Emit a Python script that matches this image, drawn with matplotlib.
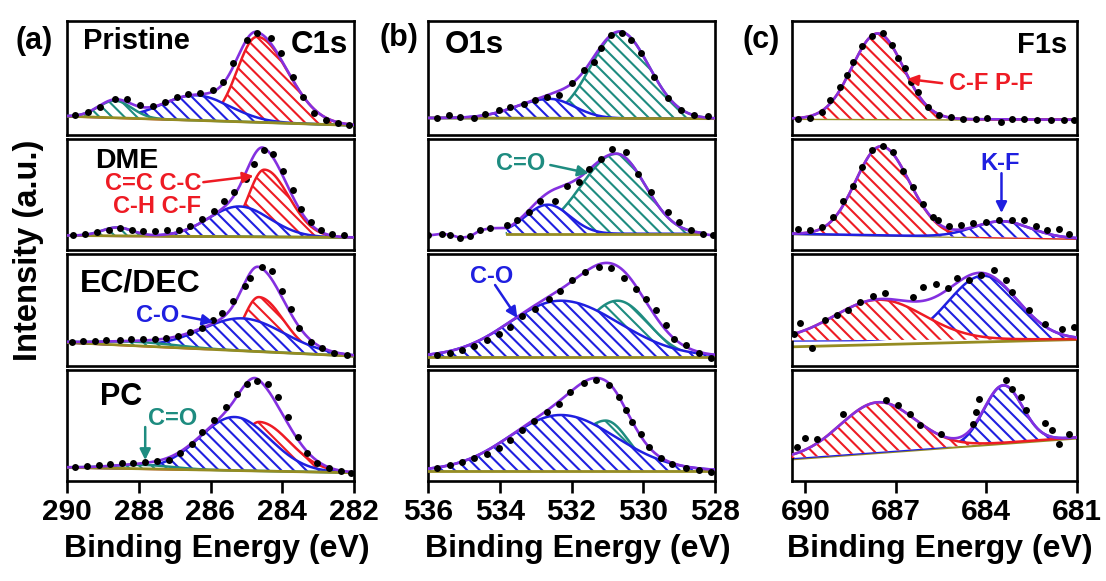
import numpy as np
import matplotlib
matplotlib.use("Agg")
import matplotlib.pyplot as plt
from matplotlib.patches import Polygon
from matplotlib.collections import LineCollection

plt.rcParams["font.family"] = ["Liberation Sans", "DejaVu Sans"]
plt.rcParams["font.weight"] = "bold"

RED = "#EE1B24"
BLUE = "#1F1FE0"
TEAL = "#1E8C80"
PURPLE = "#8430E0"
OLIVE = "#958C22"

# ---------------- C 1s ----------------
c1s_xlim = (290, 282)
c1s_ticks = [290, 288, 286, 284, 282]

c1s_pristine_E = [289.78, 289.41, 289.08, 288.66, 288.32, 287.96, 287.59, 287.26, 286.92, 286.62, 286.28, 285.94,
                  285.66, 285.36, 284.97, 284.69, 284.32, 284.04, 283.71, 283.43, 283.12, 282.78, 282.45, 282.14]
c1s_pristine_I = [0.168, 0.195, 0.239, 0.31, 0.31, 0.257, 0.248, 0.283, 0.327, 0.354, 0.363, 0.389,
                  0.46, 0.628, 0.832, 0.894, 0.85, 0.717, 0.504, 0.327, 0.186, 0.124, 0.097, 0.08]
c1s_pristine_bg = (0.16, 0.08)
# (colour, centre eV, height, FWHM on high-BE side, FWHM on low-BE side)
c1s_pristine_peaks = [(RED, 284.7, 0.75, 1.3, 2.0), (BLUE, 286.4, 0.22, 2.2, 2.2), (TEAL, 288.66, 0.15, 1.1, 1.1)]

c1s_dme_E = [289.82, 289.5, 289.17, 288.84, 288.52, 288.19, 287.87, 287.54, 287.21, 286.89, 286.56, 286.23, 285.91,
             285.63, 285.35, 285.02, 284.79, 284.51, 284.27, 283.99, 283.71, 283.48, 283.2, 282.92, 282.6, 282.27]
c1s_dme_I = [0.134, 0.149, 0.164, 0.184, 0.199, 0.179, 0.173, 0.17, 0.179, 0.185, 0.223, 0.277, 0.357,
             0.446, 0.52, 0.64, 0.774, 0.899, 0.863, 0.714, 0.536, 0.372, 0.253, 0.179, 0.149, 0.134]
c1s_dme_bg = (0.134, 0.116)
c1s_dme_peaks = [(RED, 284.5, 0.60, 1.05, 1.6), (BLUE, 285.2, 0.27, 2.0, 2.0), (TEAL, 288.6, 0.075, 1.0, 1.0)]

c1s_ecdec_E = [289.87, 289.55, 289.22, 288.9, 288.53, 288.21, 287.88, 287.55, 287.23, 286.9, 286.57, 286.25, 285.92,
               285.68, 285.36, 285.03, 284.89, 284.56, 284.28, 284.0, 283.77, 283.54, 283.21, 282.89, 282.56, 282.19]
c1s_ecdec_I = [0.215, 0.221, 0.227, 0.23, 0.236, 0.242, 0.242, 0.242, 0.254, 0.271, 0.304, 0.342, 0.413,
               0.472, 0.584, 0.717, 0.79, 0.88, 0.845, 0.674, 0.51, 0.342, 0.215, 0.165, 0.118, 0.097]
c1s_ecdec_bg = (0.21, 0.088)
c1s_ecdec_peaks = [(RED, 284.65, 0.487, 1.0, 1.6), (BLUE, 285.1, 0.29, 2.7, 2.7), (TEAL, 288.0, 0.035, 2.5, 2.5)]

c1s_pc_E = [289.78, 289.45, 289.12, 288.8, 288.47, 288.15, 287.82, 287.49, 287.17, 286.84, 286.51, 286.23, 285.91,
            285.58, 285.25, 284.97, 284.69, 284.41, 284.13, 283.85, 283.57, 283.3, 283.02, 282.69, 282.36, 282.08]
c1s_pc_I = [0.128, 0.137, 0.143, 0.149, 0.158, 0.164, 0.173, 0.18, 0.188, 0.247, 0.336, 0.44, 0.545,
            0.664, 0.783, 0.872, 0.9, 0.866, 0.753, 0.574, 0.396, 0.247, 0.158, 0.113, 0.092, 0.074]
c1s_pc_bg = (0.122, 0.074)
c1s_pc_peaks = [(RED, 284.65, 0.44, 1.1, 2.0), (BLUE, 285.33, 0.48, 2.3, 2.3), (TEAL, 287.9, 0.035, 2.0, 2.0)]

# ---------------- O 1s ----------------
o1s_xlim = (536, 528)
o1s_ticks = [536, 534, 532, 530, 528]

o1s_pristine_E = [535.76, 535.41, 535.1, 534.73, 534.41, 534.03, 533.71, 533.33, 533.01, 532.68, 532.36, 531.98,
                  531.66, 531.38, 531.19, 530.91, 530.58, 530.35, 530.07, 529.7, 529.32, 528.95, 528.58, 528.2]
o1s_pristine_I = [0.148, 0.168, 0.153, 0.148, 0.177, 0.212, 0.242, 0.265, 0.301, 0.33, 0.345, 0.449,
                  0.566, 0.64, 0.758, 0.876, 0.891, 0.832, 0.714, 0.507, 0.316, 0.212, 0.168, 0.159]
o1s_pristine_bg = (0.145, 0.139)
o1s_pristine_peaks = [(TEAL, 530.65, 0.76, 1.9, 1.9), (BLUE, 532.6, 0.17, 2.2, 1.6)]

o1s_dme_E = [535.99, 535.62, 535.38, 535.1, 534.83, 534.55, 534.27, 533.8, 533.52, 533.19, 532.87, 532.45, 532.12,
             531.8, 531.52, 531.19, 530.86, 530.49, 530.16, 529.79, 529.32, 529.0, 528.67, 528.34, 528.06]
o1s_dme_I = [0.134, 0.149, 0.14, 0.113, 0.125, 0.179, 0.199, 0.232, 0.274, 0.342, 0.446, 0.446, 0.58,
             0.61, 0.729, 0.818, 0.908, 0.878, 0.685, 0.521, 0.342, 0.253, 0.179, 0.149, 0.134]
o1s_dme_bg = (0.149, 0.149)
o1s_dme_fit = (533.8, 528.4)
o1s_dme_peaks = [(TEAL, 530.75, 0.714, 2.3, 1.9), (BLUE, 532.66, 0.26, 1.45, 1.45)]

o1s_ecdec_E = [535.76, 535.38, 535.06, 534.73, 534.36, 534.03, 533.71, 533.38, 533.01, 532.64, 532.31, 531.98,
               531.61, 531.24, 530.91, 530.54, 530.21, 529.93, 529.65, 529.37, 529.14, 528.81, 528.44, 528.11]
o1s_ecdec_I = [0.097, 0.118, 0.142, 0.18, 0.23, 0.289, 0.348, 0.442, 0.51, 0.599, 0.673, 0.767,
               0.835, 0.885, 0.873, 0.79, 0.688, 0.599, 0.496, 0.363, 0.245, 0.186, 0.112, 0.068]
o1s_ecdec_bg = (0.083, 0.083)
o1s_ecdec_peaks = [(TEAL, 530.72, 0.50, 2.1, 2.0), (BLUE, 532.3, 0.50, 3.4, 3.8)]

o1s_pc_E = [535.76, 535.38, 535.06, 534.73, 534.36, 534.03, 533.71, 533.38, 533.05, 532.68, 532.35, 532.03, 531.66,
            531.33, 530.95, 530.68, 530.49, 530.3, 530.07, 529.84, 529.51, 529.19, 528.81, 528.44, 528.11]
o1s_pc_I = [0.113, 0.143, 0.173, 0.202, 0.241, 0.292, 0.366, 0.455, 0.539, 0.619, 0.693, 0.798, 0.878,
            0.902, 0.857, 0.753, 0.634, 0.53, 0.426, 0.306, 0.202, 0.149, 0.119, 0.098, 0.083]
o1s_pc_bg = (0.092, 0.092)
o1s_pc_peaks = [(TEAL, 531.05, 0.45, 1.9, 1.5), (BLUE, 532.3, 0.50, 3.4, 3.6)]

# ---------------- F 1s ----------------
f1s_xlim = (690.46, 681)
f1s_ticks = [690, 687, 684, 681]

f1s_pristine_E = [690.23, 689.84, 689.45, 689.18, 688.85, 688.63, 688.41, 688.13, 687.8, 687.42, 687.14, 686.93,
                  686.7, 686.48, 686.27, 685.94, 685.55, 685.16, 684.78, 684.34, 683.96, 683.51, 683.13, 682.74,
                  682.3, 681.86, 681.42, 681.09]
f1s_pristine_I = [0.139, 0.148, 0.197, 0.301, 0.413, 0.522, 0.64, 0.773, 0.867, 0.891, 0.788, 0.67,
                  0.581, 0.463, 0.374, 0.242, 0.168, 0.153, 0.139, 0.133, 0.148, 0.109, 0.133, 0.133,
                  0.124, 0.124, 0.13, 0.13]
f1s_pristine_bg = (0.139, 0.13)
f1s_pristine_peaks = [(RED, 687.6, 0.75, 2.0, 2.0)]

f1s_dme_E = [690.23, 689.84, 689.45, 689.07, 688.74, 688.41, 688.13, 687.8, 687.42, 687.09, 686.76, 686.43, 686.1,
             685.77, 685.61, 685.22, 684.84, 684.45, 684.01, 683.57, 683.13, 682.74, 682.36, 681.97, 681.59, 681.26]
f1s_dme_I = [0.194, 0.179, 0.208, 0.298, 0.446, 0.58, 0.744, 0.893, 0.937, 0.878, 0.714, 0.565, 0.417,
             0.298, 0.268, 0.223, 0.232, 0.244, 0.253, 0.268, 0.268, 0.268, 0.223, 0.185, 0.194, 0.149]
f1s_dme_bg = (0.149, 0.107)
f1s_dme_peaks = [(RED, 687.48, 0.795, 2.0, 2.2), (BLUE, 683.47, 0.143, 2.2, 2.2)]

f1s_ecdec_E = [690.39, 690.17, 689.78, 689.34, 688.96, 688.58, 688.19, 687.75, 687.36, 686.43, 686.1, 685.66,
               685.28, 684.95, 684.56, 684.17, 683.73, 683.35, 683.13, 682.58, 682.03, 681.48, 681.09]
f1s_ecdec_I = [0.289, 0.383, 0.165, 0.407, 0.451, 0.501, 0.575, 0.628, 0.649, 0.614, 0.702, 0.732,
               0.696, 0.79, 0.767, 0.814, 0.856, 0.767, 0.658, 0.496, 0.372, 0.333, 0.348]
f1s_ecdec_bg = (0.228, 0.24)
f1s_ecdec_olive = (0.171, 0.236)
f1s_ecdec_peaks = [(BLUE, 684.1, 0.57, 2.7, 2.7), (RED, 687.55, 0.36, 3.5, 3.5)]

f1s_pc_E = [690.28, 690.0, 689.6, 688.74, 687.31, 686.93, 686.54, 686.21, 685.49, 684.45, 684.34, 684.23,
            683.35, 683.13, 682.85, 682.69, 682.03, 681.81, 681.59, 681.26]
f1s_pc_I = [0.306, 0.39, 0.381, 0.598, 0.723, 0.679, 0.598, 0.5, 0.426, 0.515, 0.619, 0.738,
            0.902, 0.827, 0.753, 0.634, 0.524, 0.455, 0.336, 0.42]
f1s_pc_bg = (0.205, 0.39)
f1s_pc_olive = (0.197, 0.384)
f1s_pc_peaks = [(BLUE, 683.43, 0.515, 1.5, 1.5), (RED, 687.6, 0.445, 2.9, 2.9)]

sample_names = ["Pristine", "DME", "EC/DEC", "PC"]

# ------------------------------------------------------------------
FIG_W, FIG_H = 1106, 581
HATCH_STEP = 12.5  # px between hatch lines


def gauss(E, c, h, w_hi, w_lo):
    w = np.where(E >= c, w_hi, w_lo)
    return h * np.exp(-4 * np.log(2) * ((E - c) / w) ** 2)


def ends_line(ends, e, xlim):
    return ends[0] + (ends[1] - ends[0]) * (xlim[0] - e) / (xlim[0] - xlim[1])


def draw_panel(ax, xlim, E_pts, I_pts, bg_ends, peaks, fit=None, olive_ends=None, olive_under=False):
    ax.set_xlim(*xlim)
    ax.set_ylim(0, 1)
    if fit is None:
        lo, hi = min(xlim), max(xlim)
    else:
        lo, hi = min(fit), max(fit)
    E = np.linspace(lo, hi, 600)
    bg = ends_line(bg_ends, E, xlim)
    total = bg.copy()
    W, H = ax.bbox.width, ax.bbox.height
    offs = np.arange(0, W + H + HATCH_STEP, HATCH_STEP)
    segs = [[(o / W, 0.0), ((o - H) / W, 1.0)] for o in offs]
    for k, (col, c, h, whi, wlo) in enumerate(peaks):
        comp = gauss(E, c, h, whi, wlo)
        total = total + comp
        top = bg + comp
        z = 2 + k
        poly = Polygon(np.column_stack([np.r_[E, E[::-1]], np.r_[top, bg[::-1]]]),
                       closed=True, facecolor="white", edgecolor="none", zorder=z)
        ax.add_patch(poly)
        lc = LineCollection(segs, colors=col, linewidths=1.5, transform=ax.transAxes, zorder=z + 0.1)
        lc.set_clip_path(poly)
        ax.add_collection(lc, autolim=False)
        ax.plot(E, top, color=col, lw=1.8, zorder=z + 0.2)
    oe = olive_ends if olive_ends is not None else bg_ends
    ax.plot(E, ends_line(oe, E, xlim), color=OLIVE, lw=2.0, zorder=1.5 if olive_under else 8)

    Ed = np.asarray(E_pts)
    Id = np.asarray(I_pts)
    if fit is None:
        env_E, env_I = E, total
    else:
        lm = Ed < lo
        hm = Ed > hi
        env_E = np.r_[Ed[lm], E, Ed[hm]]
        env_I = np.r_[Id[lm], total, Id[hm]]
        o = np.argsort(env_E)
        env_E, env_I = env_E[o], env_I[o]
    ax.plot(env_E, env_I, color=PURPLE, lw=1.9, zorder=9)
    ax.plot(Ed, Id, "o", color="black", ms=5.0, zorder=10, mec="none")

    for s in ax.spines.values():
        s.set_linewidth(1.9)
    ax.set_yticks([])


fig = plt.figure(figsize=(FIG_W / 100, FIG_H / 100), dpi=100)

cols_px = [(67, 354), (428, 715), (791.5, 1076.5)]
rows_px = [(20.5, 134.5), (138.5, 250.5), (254, 366), (369.5, 481)]


def rect(x0, x1, t, b):
    return [x0 / FIG_W, 1 - b / FIG_H, (x1 - x0) / FIG_W, (b - t) / FIG_H]


columns = [
    dict(xlim=c1s_xlim, ticks=c1s_ticks, panels=[
        (c1s_pristine_E, c1s_pristine_I, c1s_pristine_bg, c1s_pristine_peaks, None, None),
        (c1s_dme_E, c1s_dme_I, c1s_dme_bg, c1s_dme_peaks, None, None),
        (c1s_ecdec_E, c1s_ecdec_I, c1s_ecdec_bg, c1s_ecdec_peaks, None, None),
        (c1s_pc_E, c1s_pc_I, c1s_pc_bg, c1s_pc_peaks, None, None)], olive_under=False),
    dict(xlim=o1s_xlim, ticks=o1s_ticks, panels=[
        (o1s_pristine_E, o1s_pristine_I, o1s_pristine_bg, o1s_pristine_peaks, None, None),
        (o1s_dme_E, o1s_dme_I, o1s_dme_bg, o1s_dme_peaks, o1s_dme_fit, None),
        (o1s_ecdec_E, o1s_ecdec_I, o1s_ecdec_bg, o1s_ecdec_peaks, None, None),
        (o1s_pc_E, o1s_pc_I, o1s_pc_bg, o1s_pc_peaks, None, None)], olive_under=False),
    dict(xlim=f1s_xlim, ticks=f1s_ticks, panels=[
        (f1s_pristine_E, f1s_pristine_I, f1s_pristine_bg, f1s_pristine_peaks, None, None),
        (f1s_dme_E, f1s_dme_I, f1s_dme_bg, f1s_dme_peaks, None, None),
        (f1s_ecdec_E, f1s_ecdec_I, f1s_ecdec_bg, f1s_ecdec_peaks, None, f1s_ecdec_olive),
        (f1s_pc_E, f1s_pc_I, f1s_pc_bg, f1s_pc_peaks, None, f1s_pc_olive)], olive_under=True),
]

axes = []
for ci, col in enumerate(columns):
    x0, x1 = cols_px[ci]
    col_axes = []
    for ri, (Ep, Ip, bge, pk, fit, olv) in enumerate(col["panels"]):
        t, b = rows_px[ri]
        ax = fig.add_axes(rect(x0, x1, t, b))
        draw_panel(ax, col["xlim"], Ep, Ip, bge, pk, fit=fit, olive_ends=olv, olive_under=col["olive_under"])
        if ri == 3:
            ax.set_xticks(col["ticks"])
            ax.set_xticklabels([str(v) for v in col["ticks"]])
            ax.tick_params(axis="x", direction="out", length=8.5, width=1.9, labelsize=21.5, pad=3.5)
        else:
            ax.set_xticks([])
        col_axes.append(ax)
    axes.append(col_axes)
    fig.text(((x0 + x1) / 2 + 6) / FIG_W, 1 - 549 / FIG_H, "Binding Energy (eV)",
             fontsize=23, ha="center", va="center")

# panel letters
fig.text(34 / FIG_W, 1 - 41 / FIG_H, "(a)", fontsize=22, ha="center", va="center")
fig.text(399 / FIG_W, 1 - 38 / FIG_H, "(b)", fontsize=22, ha="center", va="center")
fig.text(761 / FIG_W, 1 - 40 / FIG_H, "(c)", fontsize=22, ha="center", va="center")
fig.text(29 / FIG_W, 1 - 250 / FIG_H, "Intensity (a.u.)", fontsize=23.5, rotation=90, ha="center", va="center")

# sample names and core levels
name_pos = [(0.056, 0.754, 21), (0.0976, 0.734, 20.5), (0.045, 0.663, 23), (0.115, 0.682, 22)]
for ri, name in enumerate(sample_names):
    xa, ya, fs = name_pos[ri]
    axes[0][ri].text(xa, ya, name, transform=axes[0][ri].transAxes, fontsize=fs, ha="left", va="baseline")
axes[0][0].text(0.979, 0.715, "C1s", transform=axes[0][0].transAxes, fontsize=22.5, ha="right", va="baseline")
axes[1][0].text(0.059, 0.715, "O1s", transform=axes[1][0].transAxes, fontsize=22.5, ha="left", va="baseline")
axes[2][0].text(0.9667, 0.715, "F1s", transform=axes[2][0].transAxes, fontsize=21, ha="right", va="baseline")


def arrow(ax, start, end, color):
    ax.annotate("", xy=end, xytext=start,
                arrowprops=dict(arrowstyle="-|>", color=color, lw=1.8, mutation_scale=16,
                                shrinkA=0, shrinkB=0), zorder=12)


FS_ANN = 17
ax = axes[0][1]
ax.text(287.6, 0.60, "C=C C-C", color=RED, fontsize=FS_ANN, ha="center", va="center", zorder=12)
ax.text(287.48, 0.39, "C-H C-F", color=RED, fontsize=FS_ANN, ha="center", va="center", zorder=12)
arrow(ax, (286.2, 0.61), (284.8, 0.665), RED)

ax = axes[0][2]
ax.text(287.48, 0.455, "C-O", color=BLUE, fontsize=FS_ANN, ha="center", va="center", zorder=12)
arrow(ax, (286.78, 0.446), (285.92, 0.393), BLUE)

ax = axes[0][3]
ax.text(287.06, 0.565, "C=O", color=TEAL, fontsize=FS_ANN, ha="center", va="center", zorder=12)
arrow(ax, (287.82, 0.484), (287.82, 0.188), TEAL)

ax = axes[1][1]
ax.text(533.43, 0.78, "C=O", color=TEAL, fontsize=FS_ANN, ha="center", va="center", zorder=12)
arrow(ax, (532.59, 0.763), (531.52, 0.69), TEAL)

ax = axes[1][2]
ax.text(534.22, 0.795, "C-O", color=BLUE, fontsize=FS_ANN, ha="center", va="center", zorder=12)
arrow(ax, (534.13, 0.723), (533.51, 0.429), BLUE)

ax = axes[2][0]
ax.text(683.83, 0.45, "C-F P-F", color=RED, fontsize=FS_ANN, ha="center", va="center", zorder=12)
arrow(ax, (685.46, 0.45), (686.62, 0.487), RED)

ax = axes[2][1]
ax.text(683.52, 0.78, "K-F", color=BLUE, fontsize=FS_ANN, ha="center", va="center", zorder=12)
arrow(ax, (683.49, 0.69), (683.49, 0.335), BLUE)

fig.savefig("out.png", dpi=100)
